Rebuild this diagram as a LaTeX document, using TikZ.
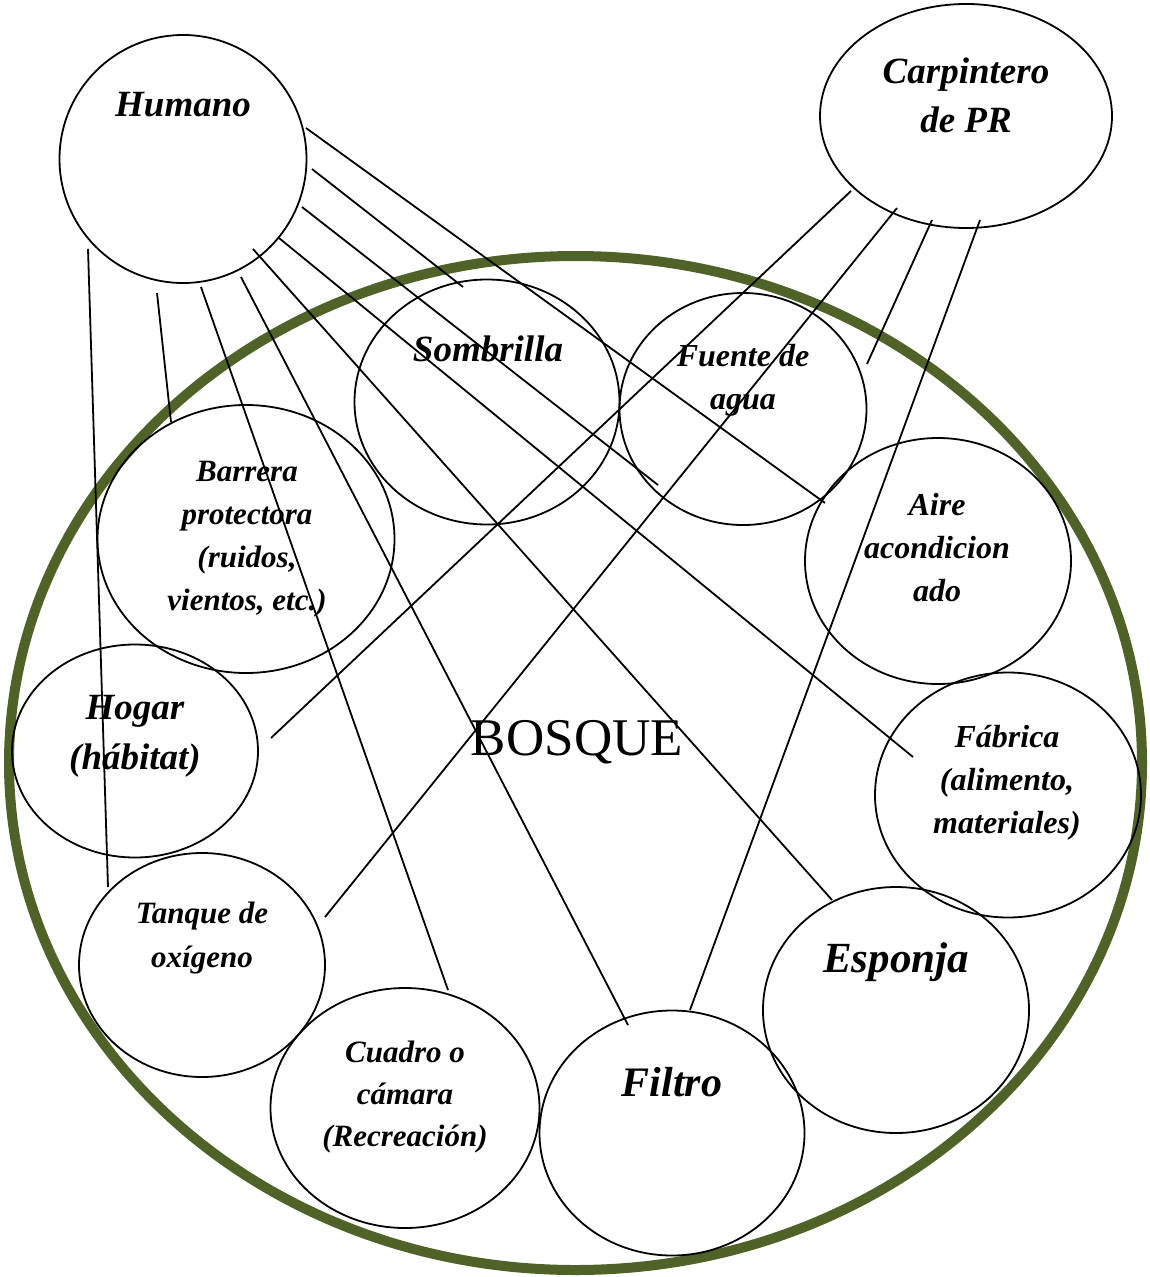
\documentclass[tikz,border=0pt]{standalone}
\usepackage{fontspec}
\setmainfont{Liberation Serif}
\usetikzlibrary{shapes.geometric}
\definecolor{bosquegreen}{RGB}{79,98,40}
\begin{document}
\begin{tikzpicture}[x=1pt,y=-1pt,
  bub/.style={draw=black, ellipse, line width=1.8pt, inner sep=0pt},
  lbl/.style={align=center, inner sep=0pt, text=black},
  bi/.style 2 args={font=\bfseries\itshape\fontsize{#1}{#2}\selectfont},
  con/.style={draw=black, line width=1.8pt}]
\useasboundingbox (0,0) rectangle (1149,1277);

% big forest ellipse
\node[draw=bosquegreen, ellipse, line width=10pt, inner sep=0pt,
      minimum width=1133pt, minimum height=1014pt] (bosque) at (575.5,763) {};
\node[lbl, font=\fontsize{53}{60}\selectfont] (bosqT) at (577,742) {BOSQUE};

% bubbles
\node[bub, minimum width=247pt, minimum height=248pt] (hum)  at (183,159) {};
\node[bub, minimum width=292pt, minimum height=224pt] (carp) at (966,116) {};
\node[bub, minimum width=265pt, minimum height=245pt] (somb) at (487,402) {};
\node[bub, minimum width=247pt, minimum height=232pt] (fuen) at (743,409) {};
\node[bub, minimum width=266pt, minimum height=246pt] (aire) at (938,561) {};
\node[bub, minimum width=297pt, minimum height=268pt] (barr) at (246,539) {};
\node[bub, minimum width=246pt, minimum height=213pt] (hog)  at (135,751) {};
\node[bub, minimum width=266pt, minimum height=245pt] (fab)  at (1008,795) {};
\node[bub, minimum width=246pt, minimum height=224pt] (tanq) at (202,965) {};
\node[bub, minimum width=269pt, minimum height=240pt] (cuad) at (405,1108) {};
\node[bub, minimum width=265pt, minimum height=245pt] (filt) at (672,1133) {};
\node[bub, minimum width=266pt, minimum height=246pt] (espo) at (896,1010) {};

% labels
\node[lbl, bi={37}{44}] (humT)  at (183,105) {Humano};
\node[lbl, bi={37}{49}] (carpT) at (966,95) {Carpintero\\de PR};
\node[lbl, bi={37}{44}] (sombT) at (488,349) {Sombrilla};
\node[lbl, bi={32}{43}] (fuenT) at (743,380) {Fuente de\\agua};
\node[lbl, bi={31}{43}] (barrT) at (247,539) {Barrera\\protectora\\(ruidos,\\vientos, etc.)};
\node[lbl, bi={32}{43}] (aireT) at (937,548) {Aire\\acondicion\\ado};
\node[lbl, bi={37}{50}] (hogT) at (135,736) {Hogar\\(hábitat)};
\node[lbl, bi={32}{43}] (fabT) at (1007,783) {Fábrica\\(alimento,\\materiales)};
\node[lbl, bi={31}{44}] (tanqT) at (202,938) {Tanque de\\oxígeno};
\node[lbl, bi={31}{42}] (cuadT) at (405,1097) {Cuadro o\\cámara\\(Recreación)};
\node[lbl, bi={42}{50}] (filtT) at (672,1082) {Filtro};
\node[lbl, bi={43}{50}] (espoT) at (896,962) {Esponja};

% connector end points
\coordinate (h1) at (306,128);  \coordinate (e1) at (825,503);
\coordinate (h2) at (312,169);  \coordinate (e2) at (463,287);
\coordinate (h3) at (302,207);  \coordinate (e3) at (658,485);
\coordinate (h4) at (279,238);  \coordinate (e4) at (913,757);
\coordinate (h5) at (253,249);  \coordinate (e5) at (832,900);
\coordinate (h6) at (241,277);  \coordinate (e6) at (628,1025);
\coordinate (h7) at (201,287);  \coordinate (e7) at (448,990);
\coordinate (h8) at (157,293);  \coordinate (e8) at (171,422);
\coordinate (h9) at (88,249);   \coordinate (e9) at (108,887);
\coordinate (c1) at (851,191);  \coordinate (f1) at (271,738);
\coordinate (c2) at (897,208);  \coordinate (f2) at (325,917);
\coordinate (c3) at (932,220);  \coordinate (f3) at (867,364);
\coordinate (c4) at (980,220);  \coordinate (f4) at (690,1010);

% connectors from Humano
\draw[con] (h1) -- (e1);
\draw[con] (h2) -- (e2);
\draw[con] (h3) -- (e3);
\draw[con] (h4) -- (e4);
\draw[con] (h5) -- (e5);
\draw[con] (h6) -- (e6);
\draw[con] (h7) -- (e7);
\draw[con] (h8) -- (e8);
\draw[con] (h9) -- (e9);
% connectors from Carpintero de PR
\draw[con] (c1) -- (f1);
\draw[con] (c2) -- (f2);
\draw[con] (c3) -- (f3);
\draw[con] (c4) -- (f4);
\end{tikzpicture}
\end{document}
